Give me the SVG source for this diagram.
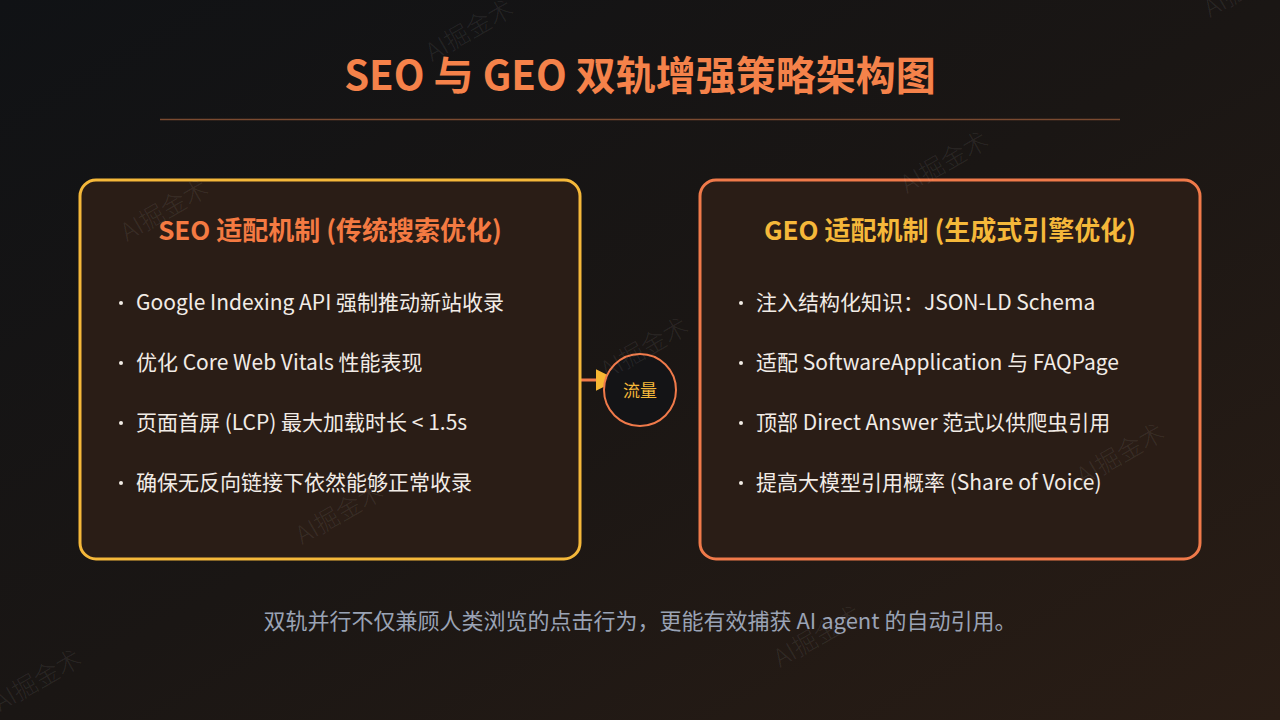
<svg xmlns="http://www.w3.org/2000/svg" width="1280" height="720" viewBox="0 0 1280 720">
<defs>
<linearGradient id="bg" x1="0" y1="0" x2="1" y2="1">
<stop offset="0" stop-color="#101215"/>
<stop offset="0.5" stop-color="#1a1614"/>
<stop offset="1" stop-color="#2a1d15"/>
</linearGradient>
<marker id="ah" viewBox="0 0 10 10" refX="2" refY="5" markerWidth="22" markerHeight="22" markerUnits="userSpaceOnUse" orient="auto">
<path d="M0,0 L10,5 L0,10 z" fill="#f7b733"/>
</marker>
<style>
text{font-family:"Noto Sans CJK SC","Noto Sans",sans-serif}
.card{fill:#2a1d16;stroke-width:3}
.h{font-size:26px;font-weight:700;text-anchor:middle}
.b{font-size:21px;fill:#f2ece6}
.wm{font-size:25px;font-weight:300;fill:#ffffff;fill-opacity:0.08}
</style>
</defs>
<rect width="1280" height="720" fill="url(#bg)"/>
<g id="title">
<text x="640" y="90" text-anchor="middle" font-size="40" font-weight="700" fill="#f5824a">SEO 与 GEO 双轨增强策略架构图</text>
<line x1="160" y1="119.5" x2="1120" y2="119.5" stroke="#7a4a30" stroke-width="1.5"/>
</g>
<g id="connectors">
<line x1="581" y1="380" x2="600" y2="380" stroke="#f07a4a" stroke-width="3" marker-end="url(#ah)"/>
</g>
<g id="seo">
<rect class="card" x="80" y="180" width="500" height="379" rx="16" stroke="#f5b83a"/>
<text class="h" x="330" y="240" fill="#f47a42">SEO 适配机制 (传统搜索优化)</text>
<g fill="#f2ece6"><circle cx="121" cy="303" r="2"/><circle cx="121" cy="363" r="2"/><circle cx="121" cy="423" r="2"/><circle cx="121" cy="483" r="2"/></g>
<text class="b" x="136" y="310">Google Indexing API 强制推动新站收录</text>
<text class="b" x="136" y="370">优化 Core Web Vitals 性能表现</text>
<text class="b" x="136" y="430">页面首屏 (LCP) 最大加载时长 &lt; 1.5s</text>
<text class="b" x="136" y="490">确保无反向链接下依然能够正常收录</text>
</g>
<g id="geo">
<rect class="card" x="700" y="180" width="500" height="379" rx="16" stroke="#f07a4a"/>
<text class="h" x="950" y="240" fill="#f5b83a">GEO 适配机制 (生成式引擎优化)</text>
<g fill="#f2ece6"><circle cx="741" cy="303" r="2"/><circle cx="741" cy="363" r="2"/><circle cx="741" cy="423" r="2"/><circle cx="741" cy="483" r="2"/></g>
<text class="b" x="756" y="310">注入结构化知识：JSON-LD Schema</text>
<text class="b" x="756" y="370">适配 SoftwareApplication 与 FAQPage</text>
<text class="b" x="756" y="430">顶部 Direct Answer 范式以供爬虫引用</text>
<text class="b" x="756" y="490">提高大模型引用概率 (Share of Voice)</text>
</g>
<g id="flow">
<circle cx="640" cy="390" r="36" fill="#141416" stroke="#f07a4a" stroke-width="2"/>
<text x="640" y="397" text-anchor="middle" font-size="17" fill="#f5b83a">流量</text>
</g>
<g id="footer">
<text x="640" y="629" text-anchor="middle" font-size="22" fill="#9aa3b5">双轨并行不仅兼顾人类浏览的点击行为，更能有效捕获 AI agent 的自动引用。</text>
</g>
<g id="watermarks">
<text class="wm" transform="translate(432,62) rotate(-30)">AI掘金术</text>
<text class="wm" transform="translate(1210,18) rotate(-30)">AI掘金术</text>
<text class="wm" transform="translate(127,242) rotate(-30)">AI掘金术</text>
<text class="wm" transform="translate(907,194) rotate(-30)">AI掘金术</text>
<text class="wm" transform="translate(607,380) rotate(-30)">AI掘金术</text>
<text class="wm" transform="translate(302,545) rotate(-30)">AI掘金术</text>
<text class="wm" transform="translate(1083,486) rotate(-30)">AI掘金术</text>
<text class="wm" transform="translate(780,668) rotate(-30)">AI掘金术</text>
<text class="wm" transform="translate(0,712) rotate(-30)">AI掘金术</text>
</g>
</svg>
